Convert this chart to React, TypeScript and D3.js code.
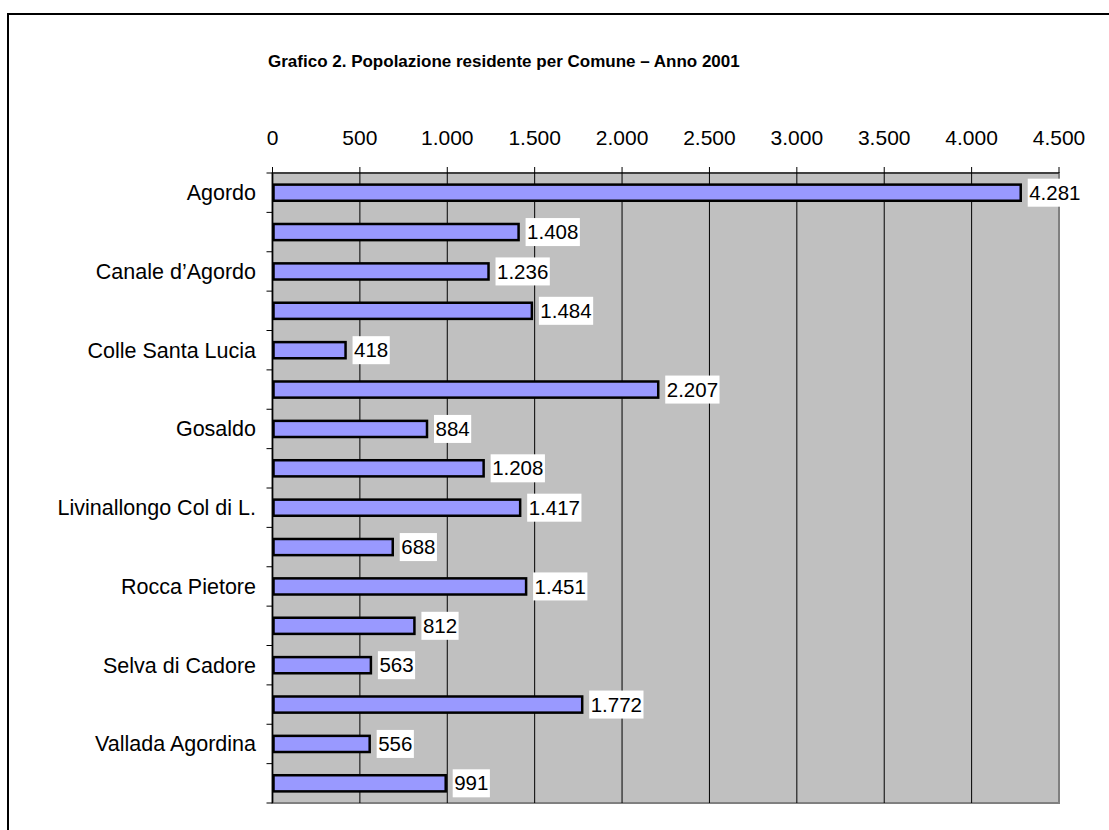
import React from "react";
import * as d3 from "d3";

const title = "Grafico 2. Popolazione residente per Comune – Anno 2001";
const comuni = [
  "Agordo",
  "Alleghe",
  "Canale d’Agordo",
  "Cencenighe Agordino",
  "Colle Santa Lucia",
  "Falcade",
  "Gosaldo",
  "La Valle Agordina",
  "Livinallongo Col di L.",
  "Rivamonte Agordino",
  "Rocca Pietore",
  "San Tomaso Agordino",
  "Selva di Cadore",
  "Taibon Agordino",
  "Vallada Agordina",
  "Voltago Agordino",
];
const popolazione = [4281, 1408, 1236, 1484, 418, 2207, 884, 1208, 1417, 688, 1451, 812, 563, 1772, 556, 991];
const xTicks = [0, 500, 1000, 1500, 2000, 2500, 3000, 3500, 4000, 4500];

const itFormat = d3.formatLocale({ decimal: ",", thousands: ".", grouping: [3], currency: ["€", ""] }).format(",d");

const W = 1109;
const H = 830;
const plot = { left: 272.5, right: 1059, top: 173, bottom: 803 };
const FONT = "Arial, 'Liberation Sans', sans-serif";

function textWidth(s: string, size: number) {
  let w = 0;
  for (const c of s) w += c === "." ? 0.278 : 0.556;
  return w * size;
}

export default function App() {
  const x = d3.scaleLinear().domain([0, 4500]).range([plot.left, plot.right]);
  const y = d3.scaleBand<string>().domain(comuni).range([plot.top, plot.bottom]).paddingInner(0).paddingOuter(0);
  const bw = y.bandwidth();
  const barH = bw * 0.41;
  const boundaries = d3.range(comuni.length + 1).map((i) => plot.top + i * bw);

  return (
    <svg
      width={W}
      height={H}
      style={{ position: "absolute", left: 0, top: 0, background: "#fff" }}
      fontFamily={FONT}
    >
      <rect x={8} y={14} width={1300} height={1000} fill="none" stroke="#000" strokeWidth={2} />
      <text x={268} y={67} fontSize={17} fontWeight="bold" fill="#000">
        {title}
      </text>

      {/* plot area */}
      <rect
        x={plot.left}
        y={plot.top}
        width={plot.right - plot.left}
        height={plot.bottom - plot.top}
        fill="#C0C0C0"
        stroke="#808080"
        strokeWidth={2}
      />
      {xTicks.slice(1, -1).map((t) => (
        <line key={"g" + t} x1={x(t)} x2={x(t)} y1={plot.top} y2={plot.bottom} stroke="#000" strokeWidth={1} />
      ))}

      {/* top axis */}
      <line x1={plot.left} x2={plot.right} y1={plot.top} y2={plot.top} stroke="#000" strokeWidth={1} />
      {xTicks.map((t) => (
        <g key={"t" + t}>
          <line x1={x(t)} x2={x(t)} y1={plot.top - 6} y2={plot.top} stroke="#000" strokeWidth={1} />
          <text x={x(t)} y={145} fontSize={21} textAnchor="middle" fill="#000">
            {itFormat(t)}
          </text>
        </g>
      ))}

      {/* left axis */}
      <line x1={plot.left} x2={plot.left} y1={plot.top} y2={plot.bottom} stroke="#000" strokeWidth={1.5} />
      {boundaries.map((b, i) => (
        <line key={"l" + i} x1={plot.left - 6} x2={plot.left} y1={b} y2={b} stroke="#000" strokeWidth={1} />
      ))}
      {comuni.map((c, i) =>
        i % 2 === 0 ? (
          <text
            key={"c" + c}
            x={256}
            y={(y(c) as number) + bw / 2}
            dy="0.35em"
            fontSize={21.5}
            textAnchor="end"
            fill="#000"
          >
            {c}
          </text>
        ) : null
      )}

      {/* bars */}
      {comuni.map((c, i) => {
        const cy = (y(c) as number) + bw / 2;
        const x1 = x(popolazione[i]);
        const label = itFormat(popolazione[i]);
        const tw = textWidth(label, 20.5);
        return (
          <g key={"b" + c}>
            <rect
              x={plot.left + 1}
              y={cy - barH / 2}
              width={x1 - plot.left - 1}
              height={barH}
              fill="#9999FF"
              stroke="#000"
              strokeWidth={2.5}
            />
            <rect x={x1 + 7} y={cy - 14} width={tw + 3} height={28} fill="#fff" />
            <text x={x1 + 8.5} y={cy} dy="0.35em" fontSize={20.5} fill="#000">
              {label}
            </text>
          </g>
        );
      })}
    </svg>
  );
}
